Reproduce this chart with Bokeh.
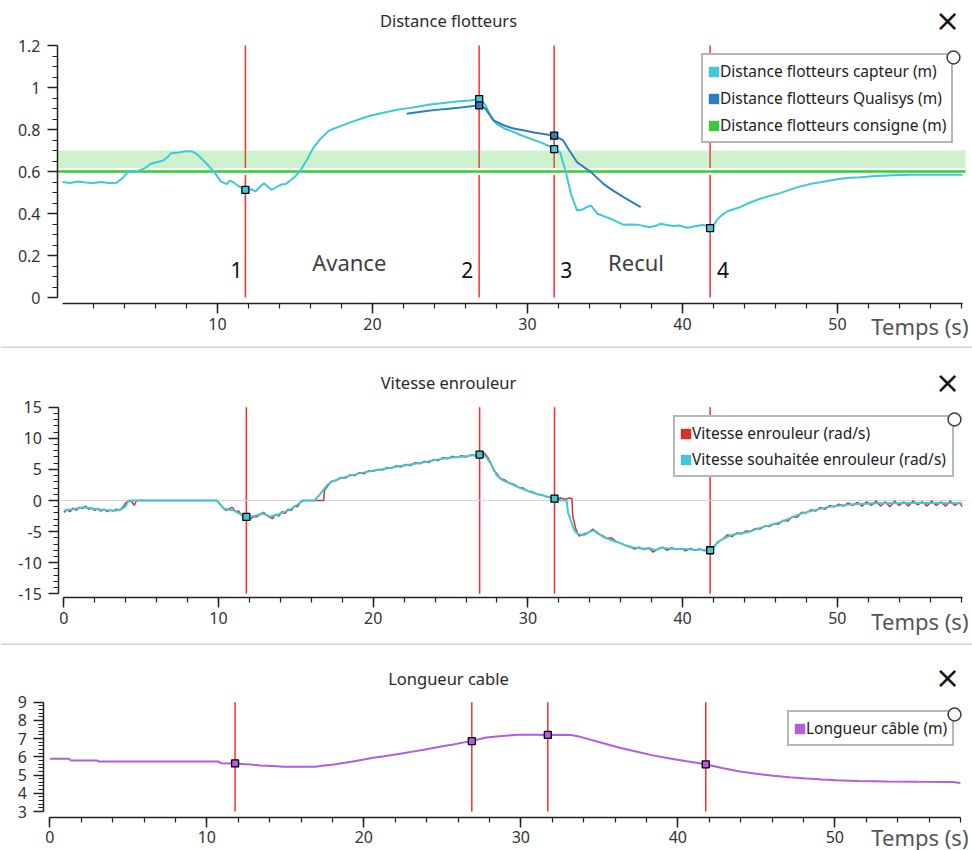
import numpy as np
from bokeh.plotting import figure
from bokeh.layouts import column
from bokeh.models import (Range1d, SingleIntervalTicker, CustomJSTickFormatter, Legend,
                          LegendItem, Label, BoxAnnotation)
from bokeh.embed import file_html
from bokeh.resources import INLINE
from bokeh.core.properties import value

# ------------------------------------------------------------------ data
event_times = [11.8, 26.88, 31.72, 41.78]
event_names = ["1", "2", "3", "4"]
phase_names = ["Avance", "Recul"]
phase_times = [18.5, 37.0]

# Distance flotteurs capteur (m)
capteur_t = [0.0, 0.5, 1.0, 1.5, 2.0, 2.5, 3.0, 3.5, 3.9, 4.2, 5.0, 5.4, 5.7, 6.5, 6.8, 7.0,
             7.5, 8.0, 8.4, 8.7, 9.0, 9.3, 9.8, 10.2, 10.6, 10.8, 11.0, 11.3, 11.85, 12.2,
             12.45, 12.7, 13.0, 13.3, 13.5, 13.8, 14.1, 14.4, 14.7, 15.0, 15.35, 15.8, 16.2,
             16.7, 17.2, 17.9, 18.6, 19.2, 19.9, 20.7, 21.6, 22.45, 23.0, 23.7, 24.3, 25.0,
             25.6, 26.3, 26.97, 27.3, 27.6, 28.0, 28.5, 28.9, 29.5, 30.2, 30.8, 31.3, 31.75,
             32.1, 32.45, 32.8, 33.2, 33.6, 33.8, 34.1, 34.5, 35.0, 35.35, 35.8, 36.2, 36.6,
             37.1, 37.5, 37.9, 38.3, 38.6, 39.0, 39.4, 39.8, 40.3, 40.9, 41.3, 41.6, 41.85,
             42.2, 42.5, 42.9, 43.3, 43.7, 44.3, 45.0, 45.6, 46.3, 47.0, 47.6, 48.2, 48.9,
             49.5, 50.2, 50.8, 51.5, 52.5, 53.6, 54.7, 55.8, 57.0, 58.06]
capteur_v = [0.55, 0.545, 0.552, 0.548, 0.545, 0.55, 0.545, 0.547, 0.57, 0.597, 0.605, 0.62,
             0.637, 0.652, 0.67, 0.687, 0.69, 0.697, 0.695, 0.681, 0.66, 0.637, 0.597, 0.553,
             0.54, 0.557, 0.55, 0.533, 0.51, 0.515, 0.505, 0.525, 0.544, 0.525, 0.512, 0.525,
             0.538, 0.54, 0.557, 0.575, 0.605, 0.66, 0.716, 0.76, 0.795, 0.815, 0.835, 0.85,
             0.867, 0.88, 0.894, 0.903, 0.91, 0.919, 0.924, 0.93, 0.934, 0.938, 0.946, 0.914,
             0.867, 0.827, 0.805, 0.795, 0.775, 0.756, 0.74, 0.724, 0.705, 0.692, 0.605, 0.494,
             0.414, 0.42, 0.43, 0.438, 0.399, 0.385, 0.375, 0.36, 0.346, 0.348, 0.347, 0.34,
             0.335, 0.342, 0.351, 0.345, 0.34, 0.343, 0.332, 0.34, 0.345, 0.343, 0.325, 0.367,
             0.39, 0.411, 0.42, 0.43, 0.45, 0.47, 0.483, 0.497, 0.515, 0.529, 0.54, 0.549,
             0.557, 0.565, 0.57, 0.573, 0.578, 0.582, 0.584, 0.585, 0.585, 0.585]

# Distance flotteurs Qualisys (m)
qualisys_t = [22.2, 22.9, 23.7, 24.6, 25.5, 26.1, 26.75, 26.97, 27.3, 27.8, 28.5, 29.1, 29.8,
              30.4, 31.05, 31.75, 32.3, 32.7, 33.2, 34.1, 34.9, 35.5, 36.2, 36.8, 37.3]
qualisys_v = [0.875, 0.882, 0.89, 0.897, 0.903, 0.908, 0.914, 0.916, 0.898, 0.843, 0.819,
              0.805, 0.795, 0.786, 0.779, 0.77, 0.748, 0.70, 0.644, 0.597, 0.541, 0.51, 0.478,
              0.452, 0.43]

# Distance flotteurs consigne (m)
consigne_value = 0.6
consigne_upper = 0.7

# Vitesse souhaitée enrouleur (rad/s)
souhaitee_t = [0.0, 0.6, 1.3, 1.8, 2.4, 3.0, 3.45, 3.8, 4.0, 4.2, 9.9, 10.35, 10.7, 11.0, 11.4,
               11.85, 12.3, 12.6, 12.9, 13.3, 13.6, 13.9, 14.2, 14.6, 14.9, 15.2, 15.4, 16.2,
               16.6, 17.0, 17.25, 17.8, 18.5, 19.2, 20.0, 20.8, 21.55, 22.4, 23.3, 24.0, 24.8,
               25.5, 26.1, 26.5, 26.95, 27.25, 27.6, 28.0, 28.4, 28.9, 29.5, 30.2, 30.6, 31.0,
               31.4, 31.8, 32.1, 32.5, 32.6, 33.0, 33.2, 33.6, 34.0, 34.3, 34.6, 34.9, 35.3,
               35.8, 36.2, 36.6, 37.0, 37.5, 37.9, 38.25, 38.6, 39.1, 39.65, 40.2, 40.7, 41.3,
               41.8, 42.1, 42.45, 43.1, 43.6, 44.2, 45.0, 45.6, 46.3, 47.0, 47.6, 48.3, 48.9,
               49.5, 50.2, 50.8, 51.5, 52.5, 53.6, 55.0, 56.5, 58.07]
souhaitee_v = [-1.6, -1.4, -1.1, -1.3, -1.5, -1.6, -1.6, -1.3, -0.9, 0.0, 0.0, -1.3, -1.5, -1.6,
               -2.2, -2.7, -2.5, -2.3, -2.1, -2.6, -2.4, -2.2, -1.9, -1.5, -1.0, -0.5, 0.0, 0.0,
               1.1, 2.4, 2.95, 3.5, 4.0, 4.4, 4.8, 5.1, 5.45, 5.8, 6.15, 6.5, 6.85, 7.0, 7.15,
               7.3, 7.4, 7.2, 5.9, 4.0, 3.2, 2.7, 2.0, 1.35, 1.0, 0.8, 0.5, 0.25, 0.05, 0.0,
               -2.0, -4.8, -5.35, -5.6, -5.0, -4.8, -5.4, -5.9, -6.3, -6.7, -7.1, -7.5, -7.6,
               -7.75, -7.7, -8.0, -7.6, -7.7, -7.8, -7.8, -7.9, -7.9, -8.0, -7.2, -6.4, -5.6,
               -5.3, -5.1, -4.4, -4.0, -3.5, -2.8, -2.15, -1.7, -1.35, -1.0, -0.8, -0.65, -0.55,
               -0.45, -0.45, -0.4, -0.4, -0.45]

# Vitesse enrouleur (rad/s)
enrouleur_t = [0.0, 0.2, 0.4, 0.6, 0.8, 1.0, 1.2, 1.4, 1.6, 1.8, 2.0, 2.2, 2.4, 2.6, 2.8, 3.0,
               3.2, 3.4, 3.6, 3.8, 4.0, 4.2, 4.4, 4.55, 4.7, 9.9, 10.1, 10.3, 10.5, 10.7, 10.9,
               11.1, 11.3, 11.5, 11.7, 11.9, 12.1, 12.3, 12.5, 12.7, 12.9, 13.1, 13.3, 13.5,
               13.7, 13.9, 14.1, 14.3, 14.5, 14.7, 14.9, 15.1, 15.3, 15.5, 16.8, 16.85, 17.1,
               17.3, 17.6, 17.9, 18.2, 18.5, 18.8, 19.1, 19.4, 19.7, 20.0, 20.3, 20.6, 20.9,
               21.2, 21.5, 21.8, 22.1, 22.4, 22.7, 23.0, 23.3, 23.6, 23.9, 24.2, 24.5, 24.8,
               25.1, 25.4, 25.7, 26.0, 26.3, 26.6, 26.9, 27.2, 27.4, 27.6, 27.8, 28.0, 28.2,
               28.5, 28.8, 29.1, 29.4, 29.7, 30.0, 30.3, 30.6, 30.9, 31.2, 31.5, 31.8, 32.1,
               32.4, 32.7, 32.85, 32.9, 33.1, 33.3, 33.6, 33.9, 34.2, 34.5, 34.8, 35.1, 35.4,
               35.7, 36.0, 36.3, 36.6, 36.9, 37.2, 37.5, 37.8, 38.1, 38.4, 38.7, 39.0, 39.3,
               39.6, 39.9, 40.2, 40.5, 40.8, 41.1, 41.4, 41.7, 42.0, 42.3, 42.6, 42.9, 43.2,
               43.5, 43.8, 44.1, 44.4, 44.7, 45.0, 45.3, 45.6, 45.9, 46.2, 46.5, 46.8, 47.1,
               47.4, 47.7, 48.0, 48.3, 48.6, 48.9, 49.2, 49.5, 49.8, 50.1, 50.4, 50.7, 51.0,
               51.3, 51.6, 51.9, 52.2, 52.5, 52.8, 53.1, 53.4, 53.7, 54.0, 54.3, 54.6, 54.9,
               55.2, 55.5, 55.8, 56.1, 56.4, 56.7, 57.0, 57.3, 57.6, 57.9, 58.07]
enrouleur_v = [-1.9, -1.5, -1.8, -1.2, -1.6, -1.1, -1.3, -0.9, -1.4, -1.2, -1.6, -1.3, -1.7,
               -1.4, -1.8, -1.5, -1.7, -1.4, -1.6, -1.1, -0.4, 0.0, -0.2, -0.8, 0.0, 0.0, -0.6,
               -1.2, -1.6, -1.3, -1.1, -1.8, -1.7, -2.4, -2.5, -2.8, -2.9, -2.6, -2.6, -2.2,
               -1.9, -2.3, -2.7, -2.9, -2.2, -2.5, -1.8, -2.1, -1.4, -1.6, -0.9, -1.0, -0.3,
               0.0, 0.0, 1.6, 2.5, 3.1, 3.2, 3.7, 3.6, 4.1, 4.0, 4.5, 4.3, 4.8, 4.7, 5.0, 4.9,
               5.3, 5.2, 5.6, 5.4, 5.8, 5.6, 6.1, 5.9, 6.3, 6.1, 6.6, 6.4, 6.9, 6.7, 7.1, 6.9,
               7.2, 7.0, 7.3, 7.2, 7.5, 7.6, 7.0, 6.0, 4.8, 4.3, 3.6, 3.3, 2.8, 2.6, 2.1, 2.0,
               1.5, 1.4, 1.0, 0.9, 0.6, 0.5, 0.1, 0.4, 0.2, 0.4, 0.3, -2.5, -4.6, -5.7, -5.4,
               -5.2, -4.6, -5.3, -5.6, -6.1, -6.0, -6.6, -6.9, -7.2, -7.4, -7.8, -7.5, -7.9,
               -7.6, -8.3, -7.8, -7.5, -8.0, -7.6, -7.9, -7.7, -8.1, -7.7, -8.0, -7.8, -8.1,
               -7.9, -7.5, -6.6, -6.2, -5.5, -5.8, -5.2, -5.4, -4.9, -5.0, -4.5, -4.6, -4.1,
               -4.2, -3.7, -3.8, -3.2, -3.3, -2.6, -2.7, -1.9, -2.0, -1.5, -1.7, -1.1, -1.4,
               -0.8, -1.0, -0.6, -0.9, -0.4, -0.8, -0.3, -0.9, -0.2, -0.8, -0.1, -0.9, -0.2,
               -1.0, -0.1, -0.8, -0.2, -0.9, -0.1, -0.7, -0.2, -0.9, -0.1, -0.8, -0.2, -0.9,
               -0.1, -0.8, -0.3, -1.0]

# Longueur câble (m)
cable_t = [0.0, 1.2, 1.35, 3.0, 3.1, 10.7, 10.9, 11.85, 12.5, 13.4, 14.2, 14.9, 16.9, 17.5,
           18.1, 18.8, 19.4, 20.0, 20.6, 21.3, 21.9, 22.5, 23.2, 23.9, 24.5, 25.1, 25.7, 26.3,
           26.97, 27.4, 27.8, 28.45, 29.2, 29.9, 31.0, 31.75, 32.5, 33.2, 33.7, 34.2, 35.2,
           36.3, 37.4, 38.4, 39.5, 40.55, 41.2, 41.9, 42.9, 43.95, 45.0, 46.1, 47.1, 48.2,
           49.2, 50.1, 51.5, 53.3, 55.3, 57.5, 58.0]
cable_v = [5.9, 5.9, 5.8, 5.8, 5.75, 5.75, 5.65, 5.64, 5.6, 5.53, 5.5, 5.46, 5.46, 5.52, 5.58,
           5.67, 5.76, 5.85, 5.95, 6.03, 6.11, 6.2, 6.3, 6.4, 6.5, 6.59, 6.68, 6.78, 6.88,
           6.98, 7.06, 7.12, 7.17, 7.21, 7.21, 7.2, 7.21, 7.2, 7.12, 7.0, 6.76, 6.5, 6.28,
           6.08, 5.91, 5.76, 5.67, 5.57, 5.37, 5.2, 5.07, 4.96, 4.88, 4.81, 4.76, 4.72, 4.68,
           4.65, 4.63, 4.62, 4.57]

# ------------------------------------------------------------------ style
FONT = "Noto Sans"
W = 972
C_CAPTEUR = "#3ec9d9"
C_QUALISYS = "#2b7fbd"
C_CONSIGNE = "#3cc83c"
C_EVENT = "#ff2b2b"
C_ENROULEUR = "#d9302c"
C_SOUHAITEE = "#3ec9d9"
C_CABLE = "#b35ee0"
AXIS_C = "#222222"
TICK_LABEL_C = "#333333"
TEMPS_C = "#555555"
SEP_C = "#d4d4d4"
BAND_RIGHT_PX = 965          # right end of horizontal reference lines (pixels)

LEG_PAD, LEG_GLYPH, LEG_ITEM_H, LEG_EXTRA = 4, 13, 24, 4
HANDLE_BOX = 32              # legend glyph box used to draw the round handle (0.4 * 32 px)


class Panel:
    """A figure whose frame covers the whole canvas; axes are pinned at fixed locations."""

    def __init__(self, height, x0_px, px_x, axis_left_px, y_ref, y_ref_px, px_y, axis_bottom_px,
                 xb, yb, y_interval, y_minor, separator=False):
        self.h = height
        self.x0_px, self.px_x = x0_px, px_x
        self.y_ref, self.y_ref_px, self.px_y = y_ref, y_ref_px, px_y
        xr = (self.dx(0), self.dx(W))
        yr = (self.dy(height), self.dy(0))
        p = figure(width=W, height=height, x_range=Range1d(*xr), y_range=Range1d(*yr),
                   output_backend="svg", toolbar_location=None, min_border=0,
                   outline_line_color=None, background_fill_color="white",
                   border_fill_color="white")
        p.xgrid.visible = False
        p.ygrid.visible = False
        p.xaxis[0].fixed_location = self.dy(axis_bottom_px)
        p.yaxis[0].fixed_location = self.dx(axis_left_px)
        self.axis_x = self.dx(axis_left_px)
        fmt = "return String(Math.round(tick*1000)/1000);"
        for ax, interval, minor, bounds, standoff in ((p.xaxis[0], 10, 5, xb, 4),
                                                      (p.yaxis[0], y_interval, y_minor, yb, 7)):
            ax.ticker = SingleIntervalTicker(interval=interval, num_minor_ticks=minor)
            ax.bounds = bounds
            ax.formatter = CustomJSTickFormatter(code=fmt)
            ax.axis_line_color = AXIS_C
            ax.axis_line_width = 1.5
            ax.major_tick_line_color = AXIS_C
            ax.minor_tick_line_color = AXIS_C
            ax.major_tick_line_width = 1.5
            ax.minor_tick_line_width = 1.2
            ax.major_tick_out = 10
            ax.major_tick_in = 0
            ax.minor_tick_out = 5
            ax.minor_tick_in = 0
            ax.major_label_standoff = standoff
            ax.major_label_text_font = FONT
            ax.major_label_text_font_size = "16px"
            ax.major_label_text_color = TICK_LABEL_C
        if separator:
            # thin grey rule along the bottom edge of the panel (between stacked charts)
            p.add_layout(BoxAnnotation(top=self.dy(height - 2), fill_color=SEP_C,
                                       fill_alpha=1, line_color=None, level="underlay"))
        self.p = p

    # pixel -> data helpers (for placing decorations only)
    def dx(self, px):
        return (px - self.x0_px) / self.px_x

    def dy(self, py):
        return self.y_ref + (self.y_ref_px - py) / self.px_y

    def label(self, text, px, py, **kw):
        kw.setdefault("text_font", FONT)
        lab = Label(x=self.dx(px), y=self.dy(py), x_units="data", y_units="data", text=text,
                    **kw)
        self.p.add_layout(lab)
        return lab

    def decorate(self, title, title_y, cross_y, temps_y):
        self.label(title, 448, title_y, text_align="center", text_baseline="middle",
                   text_font_size="16.5px", text_color="#2a2a2a")
        self.label("\u00d7", 947, cross_y, text_align="center", text_baseline="middle",
                   text_font_size="30px", text_color="#111111", text_font="DejaVu Sans")
        self.label("Temps (s)", 968, temps_y, text_align="right", text_baseline="middle",
                   text_font_size="22px", text_color=TEMPS_C)

    def hline(self, y, color, width):
        self.p.segment(x0=self.axis_x, y0=y, x1=self.dx(BAND_RIGHT_PX), y1=y,
                       line_color=color, line_width=width, level="underlay")

    def event_lines(self, y0, y1):
        self.p.segment(x0=event_times, y0=y0, x1=event_times, y1=y1, line_color=C_EVENT,
                       line_width=1.5, level="image")

    def markers(self, t, v, color):
        t = np.asarray(t)
        ev = np.array([e for e in event_times if t.min() <= e <= t.max()])
        self.p.scatter(x=ev, y=np.interp(ev, t, v), marker="square", size=7,
                       fill_color=color, line_color="black", line_width=1.3)

    def legend(self, entries, box_w, left, top, spacing, anchor_x, anchor_y):
        p = self.p
        items = []
        for label, color in entries:
            # zero-size swatch renderer: only used to draw the legend square
            r = p.quad(left=[anchor_x], right=[anchor_x], top=[anchor_y], bottom=[anchor_y],
                       fill_color=color, line_color=None)
            items.append(LegendItem(label=label, renderers=[r]))
        n = len(entries)
        label_width = box_w - 2 * LEG_PAD - LEG_GLYPH - LEG_EXTRA
        lh = 2 * LEG_PAD + n * LEG_ITEM_H + (n - 1) * spacing
        leg = Legend(items=items, location=(left, self.h - (top + lh)),
                     padding=LEG_PAD, spacing=spacing, margin=0,
                     glyph_width=LEG_GLYPH, glyph_height=LEG_GLYPH, label_standoff=0,
                     label_height=LEG_ITEM_H, label_width=label_width,
                     label_text_font=FONT, label_text_font_size="15.5px",
                     label_text_color="#222222", border_line_color="#707070",
                     border_line_width=2, background_fill_color="white",
                     background_fill_alpha=1)
        p.add_layout(leg)
        # little round handle at the legend's top-right corner: drawn by a second,
        # frameless legend so that it sits on top of the first one
        h = p.scatter(x=[anchor_x], y=[anchor_y], size=0, marker="circle",
                      fill_color="white", line_color="#3a3a3a", line_width=1.5)
        cx, cy = left + box_w, top
        handle = Legend(items=[LegendItem(label=" ", renderers=[h])],
                        location=(cx - HANDLE_BOX / 2, self.h - (cy + HANDLE_BOX / 2)),
                        padding=0, spacing=0, margin=0, glyph_width=HANDLE_BOX,
                        glyph_height=HANDLE_BOX, label_standoff=0, label_width=0,
                        label_height=0, label_text_font_size="1px",
                        border_line_color=None, background_fill_alpha=0)
        p.add_layout(handle)


# ------------------------------------------------------------------ panel 1
P1 = Panel(348, 62, 15.5, 57, 0.0, 297, 210, 303, (0.02, 58.06), (-0.0001, 1.2001), 0.2, 4,
           separator=True)
p1 = P1.p
P1.event_lines(0, 1.2)
p1.quad(left=P1.axis_x, right=P1.dx(BAND_RIGHT_PX), bottom=consigne_value, top=consigne_upper,
        fill_color=C_CONSIGNE, fill_alpha=0.25, line_color=None, level="underlay")
P1.hline(consigne_value, "white", 7)
P1.hline(consigne_value, C_CONSIGNE, 2.5)
p1.line(capteur_t, capteur_v, line_color=C_CAPTEUR, line_width=2)
p1.line(qualisys_t, qualisys_v, line_color=C_QUALISYS, line_width=2)
P1.markers(capteur_t, capteur_v, C_CAPTEUR)
P1.markers(qualisys_t, qualisys_v, C_QUALISYS)
p1.text(x=event_times, y=0.133, text=event_names, x_offset=[-9, -12, 12, 13],
        text_align="center", text_baseline="middle", text_font=value(FONT),
        text_font_size="21px", text_color="#111111")
p1.text(x=phase_times, y=0.169, text=phase_names, text_align="center",
        text_baseline="middle", text_font=value(FONT), text_font_size="22px",
        text_color="#404040")
P1.decorate("Distance flotteurs", 20, 20, 325)
P1.legend([("Distance flotteurs capteur (m)", C_CAPTEUR),
           ("Distance flotteurs Qualisys (m)", C_QUALISYS),
           ("Distance flotteurs consigne (m)", C_CONSIGNE)],
          252, 701, 57, 3, capteur_t[0], capteur_v[0])

# ------------------------------------------------------------------ panel 2
P2 = Panel(297, 63.3, 15.47, 58.3, 0.0, 152, 6.22, 249.3, (0, 58.09), (-15, 15), 5, 5,
           separator=True)
p2 = P2.p
P2.hline(0, "#d8d8d8", 1)
P2.event_lines(-15, 15)
p2.line(enrouleur_t, enrouleur_v, line_color=C_ENROULEUR, line_width=1.5)
p2.line(souhaitee_t, souhaitee_v, line_color=C_SOUHAITEE, line_width=2)
P2.markers(souhaitee_t, souhaitee_v, C_SOUHAITEE)
P2.decorate("Vitesse enrouleur", 33.7, 33.7, 272)
P2.legend([("Vitesse enrouleur (rad/s)", C_ENROULEUR),
           ("Vitesse souhaitée enrouleur (rad/s)", C_SOUHAITEE)],
          281, 673, 71, 2, souhaitee_t[0], souhaitee_v[0])

# ------------------------------------------------------------------ panel 3
P3 = Panel(205, 49.3, 15.7, 43.3, 3.0, 166, 18.22, 171.7, (0, 58.0), (3, 9), 1, 5)
p3 = P3.p
P3.event_lines(3, 9)
p3.line(cable_t, cable_v, line_color=C_CABLE, line_width=2)
P3.markers(cable_t, cable_v, C_CABLE)
P3.decorate("Longueur cable", 32.7, 31.7, 191)
P3.legend([("Longueur câble (m)", C_CABLE)], 167, 787, 69, 2, cable_t[0], cable_v[0])

layout = column(p1, p2, p3, spacing=0)
open("out.html", "w").write(file_html(layout, INLINE))
